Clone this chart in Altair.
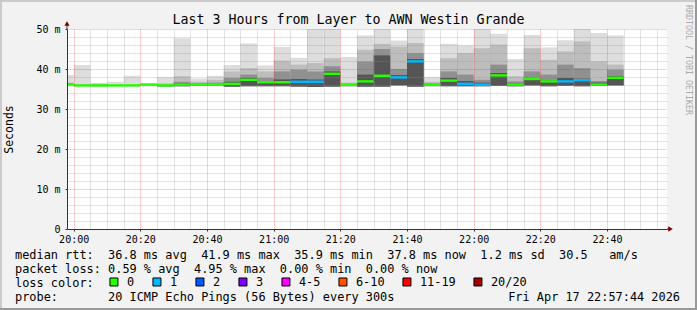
import altair as alt
import pandas as pd

FONT = "DejaVu Sans Mono"

# ---- data (ms) ----
times = ["19:55", "20:00", "20:05", "20:10", "20:15", "20:20", "20:25", "20:30",
         "20:35", "20:40", "20:45", "20:50", "20:55", "21:00", "21:05", "21:10",
         "21:15", "21:20", "21:25", "21:30", "21:35", "21:40", "21:45", "21:50",
         "21:55", "22:00", "22:05", "22:10", "22:15", "22:20", "22:25", "22:30",
         "22:35", "22:40"]
max_ms = [38.5, 41.0, 36.5, 36.8, 38.3, 36.5, 38.0, 47.7, 37.6, 38.3, 41.0, 46.4,
          40.9, 45.5, 42.8, 50.0, 50.0, 43.0, 48.4, 50.0, 47.1, 50.0, 38.0, 46.3,
          45.9, 50.0, 48.8, 42.5, 48.5, 45.4, 47.2, 50.0, 49.0, 48.4]
band1_ms = [36.6, None, 36.3, None, None, None, 36.4, 38.2, 36.8, 37.3, 39.4, 40.2,
            39.4, 42.1, 41.1, 41.5, 42.7, 36.6, 44.8, 46.3, 45.6, 46.5, 36.8, 42.7,
            44.0, 45.2, 46.1, 38.2, 45.2, 42.3, 44.4, 46.9, 41.9, 41.1]
band2_ms = [None, None, None, None, None, None, 36.1, 36.8, 36.4, 36.6, 37.8, 38.6,
            37.8, 39.4, 39.8, 39.4, 40.7, None, 41.9, 45.0, 40.0, 44.0, 36.4, 39.4,
            38.6, 37.3, 41.1, 36.9, 39.4, 38.6, 41.1, 40.2, 37.0, 39.8]
band3_ms = [None, None, None, None, None, None, None, 36.4, None, None, 36.8, 37.8,
            37.0, 37.4, 37.5, 37.4, 39.4, None, 38.6, 43.4, 38.5, 42.5, None, 37.8,
            37.0, 36.6, 39.0, 36.4, 37.8, 37.2, 37.8, 37.6, 36.6, 38.2]
min_ms = [35.7, 35.6, 35.6, 35.6, 35.6, 35.8, 35.6, 35.7, 35.8, 35.8, 35.6, 35.7,
          35.7, 35.7, 35.6, 35.5, 35.6, 35.6, 35.6, 35.6, 35.9, 35.6, 35.7, 35.7,
          35.7, 35.7, 35.8, 35.7, 35.9, 35.7, 35.8, 35.7, 35.8, 35.9]
median_ms = [36.2, 35.9, 35.9, 35.9, 35.9, 36.1, 35.9, 36.1, 36.1, 36.1, 36.3, 37.3,
             36.7, 36.7, 36.8, 36.8, 38.8, 36.1, 36.9, 38.3, 37.9, 41.9, 36.1, 37.1,
             36.3, 36.1, 38.4, 36.1, 37.5, 36.9, 36.9, 37.2, 36.1, 37.8]
loss = ["0", "0", "0", "0", "0", "0", "0", "0", "0", "0", "0", "0", "0", "0", "1", "1",
        "0", "0", "0", "0", "1", "1", "0", "0", "1", "1", "0", "0", "0", "0", "1", "1",
        "0", "0"]

loss_labels = ["0", "1", "2", "3", "4-5", "6-10", "11-19", "20/20"]
loss_colors = ["#26ff00", "#00b8ff", "#0059ff", "#7e00ff", "#ff00ff", "#ff5500",
               "#ff0000", "#a10000"]
smoke_colors = ["#dddddd", "#bdbdbd", "#909090", "#555555"]

title_text = "Last 3 Hours from Layer to AWN Westin Grande"
legend_lines = [
    "median rtt:  36.8 ms avg  41.9 ms max  35.9 ms min  37.8 ms now  1.2 ms sd  30.5   am/s",
    "packet loss: 0.59 % avg  4.95 % max  0.00 % min  0.00 % now",
    "loss color:",
    "probe:       20 ICMP Echo Pings (56 Bytes) every 300s",
]
stamp = "Fri Apr 17 22:57:44 2026"
watermark = "RRDTOOL / TOBI OETIKER"

NB = "\u00a0"
legend_lines = [s.replace(" ", NB) for s in legend_lines]


def to_min(t):
    h, m = t.split(":")
    return (int(h) - 20) * 60 + int(m)


df = pd.DataFrame({
    "time": times, "mx": max_ms, "b1": band1_ms, "b2": band2_ms, "b3": band3_ms,
    "lo": min_ms, "med": median_ms, "loss": loss,
})
df["start"] = [to_min(t) for t in times]
df["end"] = df["start"] + 5

xscale = alt.Scale(domain=[-2, 178], nice=False, zero=False)
yscale = alt.Scale(domain=[0, 50], nice=False, zero=False)

x_major = alt.Axis(
    values=list(range(0, 161, 20)),
    labelExpr="timeFormat(datetime(2026,3,17,20,datum.value,0),'%H:%M')",
    title=None, grid=True, gridColor="#ff0000", gridOpacity=0.38, gridDash=[1, 1],
    domainColor="#333333", tickColor="#333333", tickSize=2,
    labelFont=FONT, labelFontSize=10, labelColor="black", labelPadding=3,
    labelFlush=False, labelOverlap=False, zindex=1,
)
x_minor = alt.Axis(
    orient="top", values=[v for v in range(5, 180, 5) if v % 20 != 0],
    labels=False, ticks=False, domain=False, title=None, grid=True,
    gridColor="#8f8f8f", gridOpacity=0.5, gridDash=[1, 1], zindex=1,
)
y_major = alt.Axis(
    values=[0, 10, 20, 30, 40, 50],
    labelExpr="datum.value == 0 ? '0" + NB + NB + "' : datum.value + ' m'",
    title="Seconds", titleFont=FONT, titleFontSize=11.5, titleFontWeight="normal",
    titleColor="black", titleX=-53, titleY=100, titleAngle=-90, titleBaseline="bottom",
    grid=True, gridColor="#ff0000", gridOpacity=0.38, gridDash=[1, 1],
    domainColor="#333333", tickColor="#333333", tickSize=2,
    labelFont=FONT, labelFontSize=10, labelColor="black", labelPadding=5,
    labelFlush=False, labelOverlap=False, zindex=1,
)
y_minor = alt.Axis(
    orient="right", values=[v for v in range(2, 50, 2) if v % 10 != 0],
    labels=False, ticks=False, domain=False, title=None, grid=True,
    gridColor="#8f8f8f", gridOpacity=0.5, gridDash=[1, 1], zindex=1,
)

base = alt.Chart(df)

smoke0 = base.mark_rect(color=smoke_colors[0], clip=True).encode(
    x=alt.X("start:Q", scale=xscale, axis=x_major), x2="end:Q",
    y=alt.Y("lo:Q", scale=yscale, axis=y_major), y2="mx:Q",
)
smoke1 = base.transform_filter("isValid(datum.b1)").mark_rect(
    color=smoke_colors[1], clip=True).encode(
    x=alt.X("start:Q", scale=xscale, axis=x_minor), x2="end:Q",
    y=alt.Y("lo:Q", scale=yscale, axis=y_minor), y2="b1:Q",
)
smoke2 = base.transform_filter("isValid(datum.b2)").mark_rect(
    color=smoke_colors[2], clip=True).encode(
    x=alt.X("start:Q", scale=xscale, axis=None), x2="end:Q",
    y=alt.Y("lo:Q", scale=yscale, axis=None), y2="b2:Q",
)
smoke3 = base.transform_filter("isValid(datum.b3)").mark_rect(
    color=smoke_colors[3], clip=True).encode(
    x=alt.X("start:Q", scale=xscale, axis=None), x2="end:Q",
    y=alt.Y("lo:Q", scale=yscale, axis=None), y2="b3:Q",
)
median = base.transform_calculate(
    m0="datum.med - 0.3", m1="datum.med + 0.3"
).mark_rect(clip=True).encode(
    x=alt.X("start:Q", scale=xscale, axis=None), x2="end:Q",
    y=alt.Y("m0:Q", scale=yscale, axis=None), y2="m1:Q",
    color=alt.Color(
        "loss:N",
        scale=alt.Scale(domain=loss_labels, range=loss_colors),
        legend=alt.Legend(
            orient="none", legendX=41, legendY=247, direction="horizontal",
            columns=8, title=None, symbolType="square", symbolSize=64,
            symbolStrokeColor="black", symbolStrokeWidth=1, symbolOpacity=1,
            labelFont=FONT, labelFontSize=11.9, labelColor="black",
            labelOffset=7, columnPadding=15, padding=0,
        ),
    ),
)

one = alt.Chart(pd.DataFrame({"k": [0]}))

title_t = one.mark_text(
    font=FONT, fontSize=13.3, align="center", baseline="alphabetic", color="black",
).encode(x=alt.value(281.5), y=alt.value(-5), text=alt.value(title_text))

texts = one.mark_text(
    font=FONT, fontSize=11.9, align="left", baseline="alphabetic",
    lineHeight=14, color="black",
).encode(x=alt.value(-52), y=alt.value(229.5), text=alt.value(legend_lines))

stamp_t = one.mark_text(
    font=FONT, fontSize=11.9, align="right", baseline="alphabetic", color="black",
).encode(x=alt.value(613), y=alt.value(271.5), text=alt.value(stamp))

water = one.mark_text(
    font=FONT, fontSize=8.3, align="center", baseline="middle", angle=90,
    color="#aaaaaa",
).encode(x=alt.value(621), y=alt.value(31), text=alt.value(watermark))

y_ext = one.mark_rule(color="#333333").encode(
    x=alt.value(0), y=alt.value(-5), y2=alt.value(0))
x_ext = one.mark_rule(color="#333333").encode(
    x=alt.value(600), x2=alt.value(603), y=alt.value(200))
arrow_x = one.mark_point(shape="triangle-right", filled=True, size=28,
                         color="#800000", opacity=1).encode(
    x=alt.value(603.5), y=alt.value(200))
arrow_y = one.mark_point(shape="triangle-up", filled=True, size=28,
                         color="#800000", opacity=1).encode(
    x=alt.value(0), y=alt.value(-5.5))

# image frame (light top/left, dark bottom/right)
frame_top = one.mark_rule(color="#cbcbcb", strokeWidth=2).encode(
    x=alt.value(-67), x2=alt.value(630), y=alt.value(-28))
frame_left = one.mark_rule(color="#cbcbcb", strokeWidth=2).encode(
    x=alt.value(-66), y=alt.value(-29), y2=alt.value(281))
frame_bottom = one.mark_rule(color="#999999", strokeWidth=2).encode(
    x=alt.value(-67), x2=alt.value(630), y=alt.value(280))
frame_right = one.mark_rule(color="#999999", strokeWidth=2).encode(
    x=alt.value(629), y=alt.value(-29), y2=alt.value(281))

chart = alt.layer(
    smoke0, smoke1, smoke2, smoke3, median, title_t, texts, stamp_t, water,
    y_ext, x_ext, arrow_x, arrow_y, frame_top, frame_left, frame_bottom, frame_right,
).resolve_axis(x="independent", y="independent").properties(
    width=600, height=200,
    autosize=alt.AutoSizeParams(type="none"),
    padding={"left": 67, "top": 29, "right": 30, "bottom": 81},
    background="#f2f2f2",
).configure_view(fill="white", stroke=None)

chart.save("out.html", embed_options={"renderer": "svg", "actions": False})
